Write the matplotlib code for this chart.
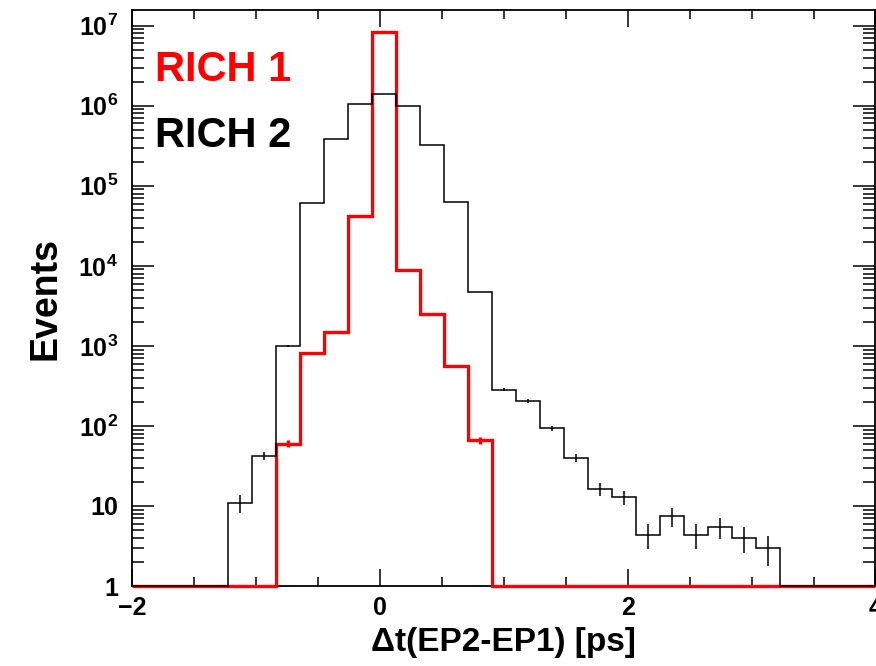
import numpy as np
import matplotlib
matplotlib.use('Agg')
import matplotlib.pyplot as plt
from matplotlib.ticker import FixedLocator, FuncFormatter, MultipleLocator, LogLocator

plt.rcParams['font.family'] = ['Liberation Sans', 'DejaVu Sans']
plt.rcParams['font.weight'] = 'bold'
plt.rcParams['mathtext.fontset'] = 'custom'
plt.rcParams['mathtext.rm'] = 'Liberation Sans:bold'
plt.rcParams['mathtext.bf'] = 'Liberation Sans:bold'

# histogram: 31 bins from -2 to 4 ps
x_min, x_max, n_bins = -2.0, 4.0, 31
y_min, y_max = 1.0, 1.57e7

# RICH 2 (black)
rich2_counts = [0, 0, 0, 0, 11, 42, 1000, 60300, 387000, 1.04e6, 1.41e6,
                9.9e5, 3.23e5, 6.25e4, 4690, 282, 204, 93, 40, 16.3, 12.8,
                4.4, 7.4, 4.4, 5.5, 4.0, 3.0, 0, 0, 0, 0]
rich2_errors = [0, 0, 0, 0, 2.8, 5, 22, 174, 440, 721, 840,
                704, 402, 177, 48, 12, 10, 6.8, 4.6, 2.8, 2.5,
                1.5, 1.9, 1.5, 1.6, 1.4, 1.2, 0, 0, 0, 0]

# RICH 1 (red)
rich1_counts = [0, 0, 0, 0, 0, 0, 60, 818, 1480, 41800, 8.27e6,
                8900, 2490, 562, 66, 0, 0, 0, 0, 0, 0,
                0, 0, 0, 0, 0, 0, 0, 0, 0, 0]
rich1_errors = [0, 0, 0, 0, 0, 0, 6, 20, 27, 145, 2030,
                67, 35, 17, 6, 0, 0, 0, 0, 0, 0,
                0, 0, 0, 0, 0, 0, 0, 0, 0, 0]

edges = np.linspace(x_min, x_max, n_bins + 1)
centers = 0.5 * (edges[:-1] + edges[1:])

fig = plt.figure(figsize=(8.76, 6.66), dpi=100)
ax = fig.add_axes([0.1507, 0.1201, 0.8487, 0.8649])
ax.set_yscale('log')

for counts, errors, color, lw in [(rich1_counts, rich1_errors, '#ff0000', 2.4),
                                  (rich2_counts, rich2_errors, 'black', 1.1)]:
    c = np.array(counts, dtype=float)
    e = np.array(errors, dtype=float)
    # empty bins sit on the axis minimum, like ROOT does on log scale
    ax.stairs(np.clip(c, y_min, None), edges, color=color, linewidth=lw,
              baseline=None, zorder=3, clip_on=False)
    m = c > 0
    ax.errorbar(centers[m], c[m], yerr=e[m], fmt='none', ecolor=color,
                elinewidth=lw, capsize=0, zorder=3)

ax.set_xlim(x_min, x_max)
ax.set_ylim(y_min, y_max)

ax.xaxis.set_major_locator(FixedLocator([-2, 0, 2, 4]))
ax.xaxis.set_minor_locator(MultipleLocator(0.5))
ax.xaxis.set_major_formatter(FuncFormatter(lambda v, p: '\u22122' if v < 0 else '%d' % v))

ax.yaxis.set_major_locator(LogLocator(base=10, numticks=20))
ax.yaxis.set_minor_locator(LogLocator(base=10, subs=np.arange(2, 10), numticks=20))


def ylab(v, pos):
    k = int(round(np.log10(v)))
    if k == 0:
        return '1'
    if k == 1:
        return '10'
    return r'$\mathbf{10^{%d}}$' % k


ax.yaxis.set_major_formatter(FuncFormatter(ylab))

ax.tick_params(axis='both', which='both', direction='in', top=True, right=True,
               width=1.1, labelsize=18)
ax.tick_params(axis='x', which='major', length=12, pad=7)
ax.tick_params(axis='x', which='minor', length=6.5)
ax.tick_params(axis='y', which='major', length=16, pad=10)
ax.tick_params(axis='y', which='minor', length=8.5)
for sp in ax.spines.values():
    sp.set_linewidth(1.3)

ax.set_xlabel('\u0394t(EP2-EP1) [ps]', fontsize=24, fontweight='bold', labelpad=5)
ax.set_ylabel('Events', fontsize=27, fontweight='bold', labelpad=11)

ax.text(0.031, 0.877, 'RICH 1', transform=ax.transAxes, color='#ff0000',
        fontsize=30, fontweight='bold', va='baseline', ha='left')
ax.text(0.031, 0.763, 'RICH 2', transform=ax.transAxes, color='black',
        fontsize=30, fontweight='bold', va='baseline', ha='left')

fig.savefig('out.png', dpi=100)
